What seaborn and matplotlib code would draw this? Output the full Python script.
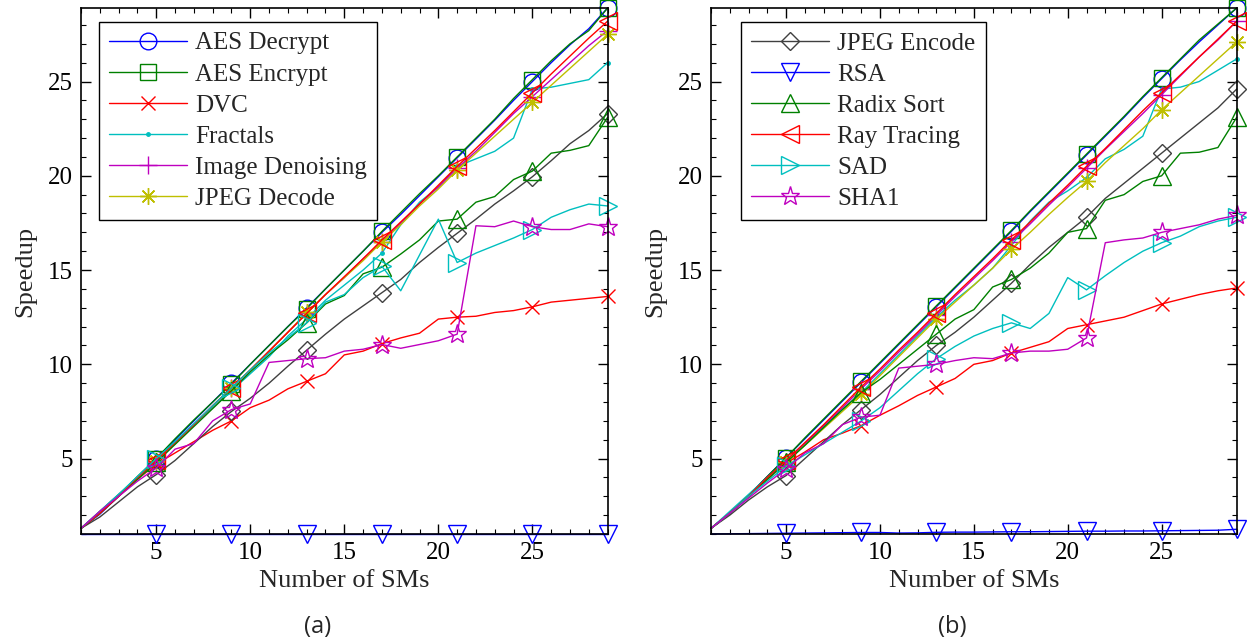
import numpy as np
import pandas as pd
import matplotlib
matplotlib.use("Agg")
import matplotlib.pyplot as plt
import seaborn as sns
from matplotlib.ticker import MultipleLocator

# ---------------- data ----------------
sms = list(range(1, 30))

names = ["AES Decrypt", "AES Encrypt", "DVC", "Fractals", "Image Denoising",
         "JPEG Decode", "JPEG Encode", "RSA", "Radix Sort", "Ray Tracing",
         "SAD", "SHA1"]

# panel (a)
a_aes_dec = [1.3, 2.05, 3.0, 4.0, 5.0, 6.0, 7.0, 8.0, 9.0, 10.0, 11.0, 12.0, 13.0, 14.0, 15.0,
             16.0, 17.0, 17.95, 18.95, 19.95, 20.95, 21.95, 22.95, 24.0, 25.0, 26.0, 26.95, 27.8, 28.9]
a_aes_enc = [1.3, 2.1, 3.05, 4.05, 5.0, 6.05, 7.05, 8.0, 8.95, 10.0, 11.0, 12.0, 12.95, 14.0, 15.0,
             16.0, 17.05, 18.05, 19.05, 20.0, 21.0, 22.0, 23.0, 24.1, 25.1, 26.1, 27.0, 27.7, 28.9]
a_dvc = [1.3, 2.2, 3.1, 3.9, 4.7, 5.3, 5.9, 6.5, 7.0, 7.7, 8.1, 8.7, 9.1, 9.5, 10.5,
         10.7, 11.1, 11.4, 11.65, 12.4, 12.5, 12.55, 12.75, 12.85, 13.05, 13.3, 13.4, 13.5, 13.6]
a_fractals = [1.3, 2.2, 3.1, 4.0, 4.95, 5.9, 6.8, 7.7, 8.6, 9.5, 10.4, 11.5, 12.4, 13.4, 14.2,
              15.0, 15.9, 17.4, 18.6, 19.4, 20.5, 20.9, 21.3, 22.0, 24.6, 24.7, 24.9, 25.1, 26.0]
a_denoise = [1.3, 2.1, 3.0, 3.9, 4.8, 5.8, 6.8, 7.8, 8.75, 9.7, 10.7, 11.7, 12.7, 13.7, 14.6,
             15.6, 16.5, 17.5, 18.5, 19.4, 20.4, 21.3, 22.3, 23.3, 24.2, 25.1, 26.0, 26.9, 27.7]
a_jpeg_dec = [1.3, 2.1, 3.0, 3.9, 4.85, 5.8, 6.8, 7.8, 8.75, 9.7, 10.7, 11.7, 12.75, 13.7, 14.6,
              15.5, 16.5, 17.4, 18.4, 19.3, 20.3, 21.2, 22.1, 23.0, 23.9, 24.8, 25.7, 26.6, 27.5]
a_jpeg_enc = [1.3, 1.9, 2.7, 3.5, 4.15, 4.9, 5.8, 6.7, 7.5, 8.2, 9.0, 9.9, 10.75, 11.6, 12.4,
              13.1, 13.8, 14.5, 15.4, 16.2, 16.95, 17.7, 18.5, 19.2, 19.95, 20.8, 21.7, 22.4, 23.3]
a_rsa = [1.0, 1.0, 1.0, 1.0, 1.0, 1.0, 1.0, 1.0, 1.0, 1.0, 1.0, 1.0, 1.0, 1.0, 1.0,
         1.0, 1.0, 1.0, 1.0, 1.0, 1.0, 1.0, 1.0, 1.0, 1.0, 1.0, 1.0, 1.0, 1.0]
a_radix = [1.3, 2.1, 3.0, 3.9, 4.8, 5.75, 6.7, 7.65, 8.6, 9.6, 10.5, 11.3, 12.2, 13.2, 13.65,
           14.8, 15.15, 15.85, 16.6, 17.6, 17.7, 18.6, 18.9, 19.8, 20.25, 21.2, 21.35, 21.6, 23.1]
a_ray = [1.3, 2.1, 3.0, 4.0, 4.9, 5.85, 6.8, 7.8, 8.75, 9.7, 10.7, 11.7, 12.7, 13.7, 14.65,
         15.6, 16.6, 17.55, 18.5, 19.5, 20.5, 21.45, 22.4, 23.4, 24.4, 25.4, 26.35, 27.3, 28.2]
a_sad = [1.3, 2.2, 3.1, 4.05, 5.0, 5.9, 6.85, 7.8, 8.75, 9.7, 10.6, 11.4, 12.2, 13.3, 13.7,
         14.6, 15.2, 13.9, 15.8, 17.7, 15.4, 15.9, 16.3, 16.7, 17.15, 17.8, 18.2, 18.5, 18.4]
a_sha1 = [1.3, 2.2, 3.0, 3.8, 4.5, 5.5, 5.8, 7.0, 7.6, 7.9, 10.1, 10.2, 10.3, 10.35, 10.7,
          10.8, 11.05, 10.85, 11.05, 11.25, 11.6, 17.35, 17.3, 17.6, 17.3, 17.15, 17.15, 17.45, 17.3]

# panel (b)
b_aes_dec = [1.3, 2.1, 3.05, 4.05, 5.05, 6.05, 7.05, 8.05, 9.05, 10.05, 11.05, 12.05, 13.05, 14.05, 15.05,
             16.05, 17.05, 18.1, 19.1, 20.1, 21.1, 22.1, 23.1, 24.15, 25.15, 26.15, 27.1, 28.0, 28.9]
b_aes_enc = [1.3, 2.1, 3.05, 4.05, 5.05, 6.1, 7.1, 8.1, 9.1, 10.1, 11.1, 12.1, 13.1, 14.1, 15.1,
             16.1, 17.1, 18.15, 19.15, 20.15, 21.15, 22.15, 23.15, 24.2, 25.2, 26.2, 27.2, 28.05, 28.9]
b_dvc = [1.3, 2.1, 3.0, 3.9, 4.75, 5.35, 6.0, 6.35, 6.75, 7.3, 7.8, 8.35, 8.8, 9.25, 10.0,
         10.2, 10.6, 10.9, 11.2, 11.9, 12.1, 12.3, 12.5, 12.85, 13.2, 13.45, 13.7, 13.9, 14.05]
b_fractals = [1.3, 2.2, 3.1, 4.0, 4.9, 5.8, 6.7, 7.6, 8.5, 9.5, 10.5, 11.5, 12.5, 13.4, 14.2,
              15.1, 16.3, 17.6, 18.6, 19.2, 19.9, 20.9, 21.4, 22.1, 24.6, 24.7, 25.0, 25.6, 26.2]
b_denoise = [1.3, 2.1, 3.0, 3.9, 4.8, 5.8, 6.75, 7.7, 8.7, 9.65, 10.65, 11.6, 12.6, 13.6, 14.55,
             15.5, 16.5, 17.45, 18.45, 19.4, 20.4, 21.4, 22.35, 23.3, 24.3, 25.3, 26.3, 27.2, 28.2]
b_jpeg_dec = [1.3, 2.1, 3.0, 3.9, 4.8, 5.7, 6.6, 7.5, 8.4, 9.4, 10.4, 11.4, 12.4, 13.3, 14.2,
              15.1, 16.1, 17.0, 17.95, 18.85, 19.7, 20.7, 21.6, 22.5, 23.5, 24.4, 25.3, 26.2, 27.1]
b_jpeg_enc = [1.3, 2.0, 2.8, 3.5, 4.1, 5.0, 5.9, 6.8, 7.6, 8.4, 9.3, 10.2, 11.0, 11.7, 12.5,
              13.4, 14.3, 15.3, 16.2, 17.0, 17.8, 18.8, 19.6, 20.4, 21.2, 22.0, 22.8, 23.6, 24.6]
b_rsa = [1.0, 1.01, 1.02, 1.03, 1.04, 1.05, 1.06, 1.07, 1.08, 1.08, 1.05, 1.06, 1.09, 1.1, 1.1,
         1.11, 1.12, 1.12, 1.13, 1.14, 1.15, 1.15, 1.16, 1.16, 1.17, 1.18, 1.19, 1.2, 1.25]
b_radix = [1.3, 2.1, 3.0, 3.9, 4.8, 5.7, 6.65, 7.6, 8.5, 9.2, 10.0, 10.8, 11.6, 12.4, 12.9,
           14.1, 14.5, 15.1, 15.9, 17.0, 17.2, 18.7, 19.0, 19.7, 20.0, 21.2, 21.25, 21.5, 23.1]
b_ray = [1.3, 2.1, 3.0, 4.0, 4.9, 5.85, 6.8, 7.8, 8.8, 9.75, 10.75, 11.7, 12.7, 13.7, 14.65,
         15.6, 16.6, 17.55, 18.55, 19.5, 20.5, 21.45, 22.45, 23.45, 24.4, 25.35, 26.3, 27.25, 28.2]
b_sad = [1.3, 2.1, 3.0, 3.8, 4.6, 5.2, 5.8, 6.4, 7.0, 7.7, 8.6, 9.5, 10.3, 10.95, 11.5,
         11.9, 12.2, 11.9, 12.7, 14.6, 13.95, 14.7, 15.4, 16.0, 16.45, 16.8, 17.3, 17.6, 17.8]
b_sha1 = [1.3, 2.1, 2.9, 3.7, 4.45, 5.3, 5.8, 6.8, 7.2, 7.3, 9.8, 9.9, 10.0, 10.2, 10.35,
          10.3, 10.6, 10.7, 10.7, 10.8, 11.4, 16.45, 16.6, 16.7, 17.0, 17.2, 17.4, 17.7, 17.9]

panel_a = [a_aes_dec, a_aes_enc, a_dvc, a_fractals, a_denoise, a_jpeg_dec,
           a_jpeg_enc, a_rsa, a_radix, a_ray, a_sad, a_sha1]
panel_b = [b_aes_dec, b_aes_enc, b_dvc, b_fractals, b_denoise, b_jpeg_dec,
           b_jpeg_enc, b_rsa, b_radix, b_ray, b_sad, b_sha1]

# ---------------- style ----------------
colors = [(0, 0, 1), (0, 0.5, 0), (1, 0, 0), (0, 0.75, 0.75), (0.75, 0, 0.75), (0.75, 0.75, 0),
          (0.25, 0.25, 0.25), (0, 0, 1), (0, 0.5, 0), (1, 0, 0), (0, 0.75, 0.75), (0.75, 0, 0.75)]
markers = ["o", "s", "x", ".", "+", (8, 2, 0), "D", "v", "^", "<", ">", "*"]
msizes = [12, 11, 10, 5, 13, 12, 9, 13, 13, 13, 13, 14]

sns.set_theme(style="white")
plt.rcParams["font.family"] = ["Liberation Serif", "DejaVu Serif"]

W, H = 1247, 643
fig = plt.figure(figsize=(W / 100, H / 100), dpi=100)
ax_a = fig.add_axes([81 / W, 1 - 534 / H, (607.6 - 81) / W, (534 - 8) / H])
ax_b = fig.add_axes([711 / W, 1 - 534 / H, (1236.7 - 711) / W, (534 - 8) / H])

TICK_FS = 18
LABEL_FS = 19
LEG_FS = 18


def draw(ax, series, legend_idx, leg_anchor):
    for i, ys in enumerate(series):
        df = pd.DataFrame({"SMs": sms, "Speedup": ys})
        c = colors[i]
        sns.lineplot(data=df, x="SMs", y="Speedup", ax=ax, color=c, linewidth=1.0,
                     marker=markers[i], markersize=msizes[i], markevery=slice(4, None, 4),
                     markeredgecolor=c, markerfacecolor=(c if markers[i] == "." else "none"),
                     markeredgewidth=1.0, clip_on=False, errorbar=None, label=names[i],
                     legend=False)
    ax.set_xlim(1, 29)
    ax.set_ylim(1, 28.9)
    ax.xaxis.set_major_locator(MultipleLocator(5))
    ax.yaxis.set_major_locator(MultipleLocator(5))
    ax.xaxis.set_minor_locator(MultipleLocator(1))
    ax.yaxis.set_minor_locator(MultipleLocator(1))
    ax.tick_params(which="both", direction="in", top=True, right=True, bottom=True, left=True,
                   colors="black", labelsize=TICK_FS, pad=6)
    ax.tick_params(which="major", length=7, width=1.0)
    ax.tick_params(which="minor", length=3.5, width=0.8)
    for s in ax.spines.values():
        s.set_color("black")
        s.set_linewidth(1.2)
    ax.set_xlabel("Number of SMs", fontsize=LABEL_FS, labelpad=4)
    ax.set_ylabel("Speedup", fontsize=LABEL_FS, labelpad=8)
    lines = ax.get_lines()
    handles = [lines[i] for i in legend_idx]
    leg = ax.legend(handles, [names[i] for i in legend_idx], loc="upper left",
                    bbox_to_anchor=leg_anchor, borderaxespad=0.0, fontsize=LEG_FS,
                    frameon=True, fancybox=False, shadow=False, framealpha=1,
                    edgecolor="black", handlelength=3.1, handletextpad=0.35,
                    labelspacing=0.345, borderpad=0.4)
    leg.get_frame().set_linewidth(1.0)


draw(ax_a, panel_a, range(0, 6), ((99 - 81) / 526.6, 1 - (22 - 8) / 526))
draw(ax_b, panel_b, range(6, 12), ((741 - 711) / 525.7, 1 - (22 - 8) / 526))

fig.text(318 / W, 1 - 627 / H, "(a)", ha="center", va="center", fontsize=17,
         family=["Open Sans", "DejaVu Sans"])
fig.text(952 / W, 1 - 627 / H, "(b)", ha="center", va="center", fontsize=17,
         family=["Open Sans", "DejaVu Sans"])

fig.savefig("out.png", dpi=100)
